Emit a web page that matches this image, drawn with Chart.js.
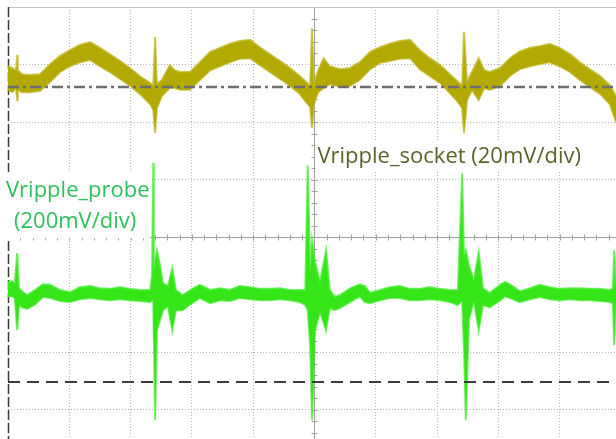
<!DOCTYPE html>
<html>
<head>
<meta charset="utf-8">
<script src="https://cdn.jsdelivr.net/npm/chart.js@4.4.1/dist/chart.umd.min.js"></script>
<style>
  html, body { margin: 0; padding: 0; background: #fff; overflow: hidden; }
  canvas { display: block; }
</style>
</head>
<body>
<canvas id="scope" width="616" height="439"></canvas>
<script>
// all values in screen divisions: x = 0..10 from the left edge, y = 0 at screen centre
// the picture is cropped at about x = 9.92 and y = -3.51

// Vripple_socket (yellow, 20mV/div) - upper and lower edge of the noisy band
const socketTime = [0.00, 0.07, 0.13, 0.15, 0.16, 0.23, 0.36, 0.52, 0.69, 0.85,
  1.01, 1.17, 1.34, 1.50, 1.66, 1.83, 1.99, 2.15, 2.32, 2.37,
  2.40, 2.43, 2.51, 2.64, 2.72, 2.81, 2.97, 3.13, 3.30, 3.46,
  3.62, 3.78, 3.95, 4.11, 4.27, 4.44, 4.60, 4.76, 4.86, 4.93,
  4.96, 4.99, 5.06, 5.15, 5.25, 5.42, 5.58, 5.74, 5.91, 6.07,
  6.23, 6.39, 6.56, 6.72, 6.88, 7.05, 7.21, 7.34, 7.41, 7.44,
  7.49, 7.57, 7.68, 7.77, 7.86, 8.03, 8.19, 8.35, 8.52, 8.68,
  8.84, 9.00, 9.17, 9.33, 9.49, 9.66, 9.82, 9.92];
const socketHigh = [2.97, 2.94, 2.90, 3.17, 2.90, 2.83, 2.82, 2.83, 3.01, 3.15,
  3.25, 3.34, 3.39, 3.29, 3.18, 3.06, 2.94, 2.80, 2.68, 2.63,
  3.48, 2.66, 2.73, 2.99, 2.90, 2.87, 2.87, 3.04, 3.22, 3.29,
  3.36, 3.41, 3.43, 3.30, 3.18, 3.06, 2.94, 2.80, 2.70, 2.63,
  3.63, 2.66, 2.90, 3.11, 2.97, 2.92, 2.94, 3.04, 3.22, 3.30,
  3.36, 3.41, 3.43, 3.25, 3.11, 2.99, 2.83, 2.70, 2.63, 3.57,
  2.70, 2.87, 3.11, 2.90, 2.87, 2.94, 3.11, 3.23, 3.29, 3.32,
  3.36, 3.29, 3.18, 3.04, 2.92, 2.80, 2.64, 2.45];
const socketLow = [2.56, 2.52, 2.59, 2.38, 2.56, 2.52, 2.52, 2.54, 2.70, 2.87,
  2.97, 3.04, 3.08, 2.97, 2.87, 2.75, 2.63, 2.49, 2.31, 2.21,
  1.81, 2.24, 2.45, 2.59, 2.59, 2.56, 2.56, 2.73, 2.90, 2.97,
  3.04, 3.10, 3.11, 2.99, 2.87, 2.75, 2.63, 2.49, 2.35, 2.26,
  1.90, 2.31, 2.52, 2.59, 2.66, 2.61, 2.63, 2.73, 2.92, 3.03,
  3.06, 3.10, 3.11, 2.92, 2.80, 2.68, 2.50, 2.35, 2.24, 1.81,
  2.38, 2.56, 2.38, 2.59, 2.56, 2.63, 2.80, 2.92, 2.97, 3.01,
  3.04, 2.97, 2.87, 2.73, 2.61, 2.49, 2.31, 2.00];

// Vripple_probe (green, 200mV/div)
const probeTime = [0.00, 0.07, 0.11, 0.15, 0.18, 0.23, 0.31, 0.44, 0.57, 0.69,
  0.85, 1.01, 1.17, 1.34, 1.50, 1.66, 1.83, 1.99, 2.15, 2.32,
  2.35, 2.37, 2.38, 2.40, 2.43, 2.48, 2.53, 2.61, 2.68, 2.74,
  2.85, 2.97, 3.13, 3.30, 3.46, 3.62, 3.78, 3.95, 4.11, 4.27,
  4.44, 4.60, 4.76, 4.85, 4.89, 4.93, 4.96, 5.01, 5.09, 5.19,
  5.25, 5.33, 5.42, 5.58, 5.74, 5.82, 5.91, 6.07, 6.23, 6.39,
  6.56, 6.72, 6.88, 7.05, 7.21, 7.34, 7.41, 7.44, 7.47, 7.52,
  7.60, 7.68, 7.75, 7.86, 8.03, 8.11, 8.19, 8.35, 8.52, 8.68,
  8.84, 9.00, 9.17, 9.33, 9.49, 9.66, 9.82, 9.87, 9.89, 9.92];
const probeHigh = [-0.78, -0.77, -0.80, -0.28, -0.89, -0.94, -1.01, -0.92, -0.82, -0.83,
  -0.92, -0.96, -0.87, -0.85, -0.89, -0.90, -0.87, -0.90, -0.92, -0.92,
  -0.66, 1.29, -0.57, -0.40, -0.23, -0.49, -0.80, -0.85, -0.54, -0.92,
  -1.01, -0.92, -0.83, -0.92, -0.89, -0.92, -0.85, -0.87, -0.90, -0.90,
  -0.89, -0.92, -0.92, -0.92, 1.25, -0.57, -0.05, -0.43, -0.78, -0.23,
  -0.92, -1.04, -1.01, -0.89, -0.82, -0.85, -0.97, -0.92, -0.87, -0.85,
  -0.90, -0.90, -0.87, -0.90, -0.92, -0.92, 1.11, -0.31, -0.23, -0.49,
  -0.75, -0.26, -0.89, -0.97, -0.83, -0.78, -0.82, -0.94, -0.89, -0.83,
  -0.87, -0.90, -0.89, -0.89, -0.90, -0.90, -0.92, -0.89, -0.23, -0.85];
const probeLow = [-1.04, -1.03, -1.06, -1.62, -1.18, -1.22, -1.25, -1.17, -1.04, -1.06,
  -1.11, -1.13, -1.08, -1.06, -1.08, -1.10, -1.08, -1.10, -1.11, -1.13,
  -1.10, -1.10, -1.79, -3.18, -1.62, -1.44, -1.27, -1.20, -1.62, -1.27,
  -1.27, -1.17, -1.06, -1.15, -1.10, -1.11, -1.06, -1.08, -1.10, -1.10,
  -1.08, -1.10, -1.13, -1.18, -1.27, -1.88, -3.18, -1.62, -1.30, -1.62,
  -1.23, -1.27, -1.23, -1.13, -1.03, -1.13, -1.15, -1.10, -1.06, -1.06,
  -1.10, -1.10, -1.08, -1.10, -1.13, -1.18, -1.10, -1.97, -3.18, -1.44,
  -1.10, -1.62, -1.18, -1.22, -1.10, -1.03, -1.06, -1.13, -1.08, -1.04,
  -1.08, -1.10, -1.08, -1.10, -1.10, -1.11, -1.13, -1.15, -1.88, -1.10];

// channel ground markers
const socketMarker = 2.61;
const probeMarker = -2.52;

// visible part of the screen
const screenX = [0, 9.92];
const screenY = [-3.51, 4];

const socketColor = '#b2aa02';
const socketEdge = 'rgba(190,182,30,0.75)';
const probeColor = '#35e517';
const probeEdge = 'rgba(70,235,50,0.75)';

const pts = (xs, ys) => xs.map((t, i) => ({x: t, y: ys[i]}));
const level = v => screenX.map(t => ({x: t, y: v}));

// centre cross, screen edges and the two text labels
const screenDecor = {
  id: 'screenDecor',
  beforeDatasetsDraw(chart) {
    const {ctx, chartArea: a, scales: {x, y}} = chart;
    const cx = Math.round(x.getPixelForValue(5)) + 0.5;
    const cy = Math.round(y.getPixelForValue(0)) + 0.5;
    ctx.save();
    ctx.strokeStyle = '#a0a0a0';
    ctx.lineWidth = 1;
    ctx.beginPath();
    ctx.moveTo(a.left, cy); ctx.lineTo(a.right, cy);
    ctx.moveTo(cx, a.top); ctx.lineTo(cx, a.bottom);
    for (let v = 0.2; v < 10; v += 0.2) {
      const px = Math.round(x.getPixelForValue(v)) + 0.5;
      ctx.moveTo(px, cy - 3); ctx.lineTo(px, cy + 3);
    }
    for (let v = -3.8; v < 4; v += 0.2) {
      const py = Math.round(y.getPixelForValue(v)) + 0.5;
      ctx.moveTo(cx - 3, py); ctx.lineTo(cx + 3, py);
    }
    ctx.stroke();
    // top edge
    ctx.strokeStyle = '#c4c4c4';
    ctx.beginPath();
    ctx.moveTo(a.left, a.top + 0.5); ctx.lineTo(a.right, a.top + 0.5);
    ctx.stroke();
    // left edge
    ctx.strokeStyle = '#3a3a3a';
    ctx.lineWidth = 1.5;
    ctx.setLineDash([10, 3]);
    ctx.beginPath();
    ctx.moveTo(a.left + 0.5, a.top); ctx.lineTo(a.left + 0.5, a.bottom);
    ctx.stroke();
    ctx.restore();
  },
  afterDatasetsDraw(chart) {
    const {ctx, chartArea: a, scales: {x, y}} = chart;
    ctx.save();
    ctx.fillStyle = '#ffffff';
    // probe label box
    const bx = x.getPixelForValue(2.32);
    const by0 = y.getPixelForValue(1.13), by1 = y.getPixelForValue(-0.02);
    ctx.fillRect(0, by0, bx, by1 - by0);
    // socket label box
    const sx0 = x.getPixelForValue(5.0) + 1, sx1 = x.getPixelForValue(9.45);
    const sy0 = y.getPixelForValue(1.69), sy1 = y.getPixelForValue(1.13);
    ctx.fillRect(sx0, sy0, sx1 - sx0, sy1 - sy0);

    ctx.font = '22px "Open Sans"';
    ctx.textBaseline = 'alphabetic';
    ctx.fillStyle = '#2fc05c';
    ctx.fillText('Vripple_probe', a.left - 2, y.getPixelForValue(0.69));
    ctx.fillText('(200mV/div)', a.left + 6, y.getPixelForValue(0.15));
    ctx.fillStyle = '#56642a';
    ctx.fillText('Vripple_socket (20mV/div)', sx0 + 2, y.getPixelForValue(1.29));
    ctx.restore();
  }
};

const gridColor = ctx => ctx.tick && ctx.tick.value === 0 ? 'rgba(0,0,0,0)' : '#b4b4b4';

function draw() {
  new Chart(document.getElementById('scope'), {
    type: 'line',
    data: {
      datasets: [
        {
          label: 'socket high', data: pts(socketTime, socketHigh),
          borderColor: socketEdge, backgroundColor: socketColor,
          fill: '+1', order: 2
        },
        {
          label: 'socket low', data: pts(socketTime, socketLow),
          borderColor: socketEdge, backgroundColor: socketColor,
          fill: false, order: 2
        },
        {
          label: 'probe high', data: pts(probeTime, probeHigh),
          borderColor: probeEdge, backgroundColor: probeColor,
          fill: '+1', order: 2
        },
        {
          label: 'probe low', data: pts(probeTime, probeLow),
          borderColor: probeEdge, backgroundColor: probeColor,
          fill: false, order: 2
        },
        {
          label: 'socket marker', data: level(socketMarker),
          borderColor: '#6e6e6e', borderWidth: 2.5,
          borderDash: [11, 4, 3, 4], fill: false, order: 0
        },
        {
          label: 'probe marker', data: level(probeMarker),
          borderColor: '#3c3c3c', borderWidth: 2,
          borderDash: [12, 7], fill: false, order: 0
        }
      ]
    },
    options: {
      responsive: false,
      animation: false,
      layout: { padding: { left: 8, top: 7, right: 0, bottom: 0 } },
      elements: {
        line: { borderWidth: 2, tension: 0 },
        point: { radius: 0, hoverRadius: 0 }
      },
      plugins: {
        legend: { display: false },
        tooltip: { enabled: false }
      },
      scales: {
        x: {
          type: 'linear', min: screenX[0], max: screenX[1],
          ticks: { display: false, stepSize: 1, includeBounds: false },
          grid: { color: gridColor, drawTicks: false, lineWidth: 1 },
          border: { display: false, dash: [1, 2] }
        },
        y: {
          type: 'linear', min: screenY[0], max: screenY[1],
          ticks: { display: false, stepSize: 1, includeBounds: false },
          grid: { color: gridColor, drawTicks: false, lineWidth: 1 },
          border: { display: false, dash: [1, 2] }
        }
      }
    },
    plugins: [screenDecor]
  });
}

document.fonts.load('22px "Open Sans"').then(draw, draw);
</script>
</body>
</html>
